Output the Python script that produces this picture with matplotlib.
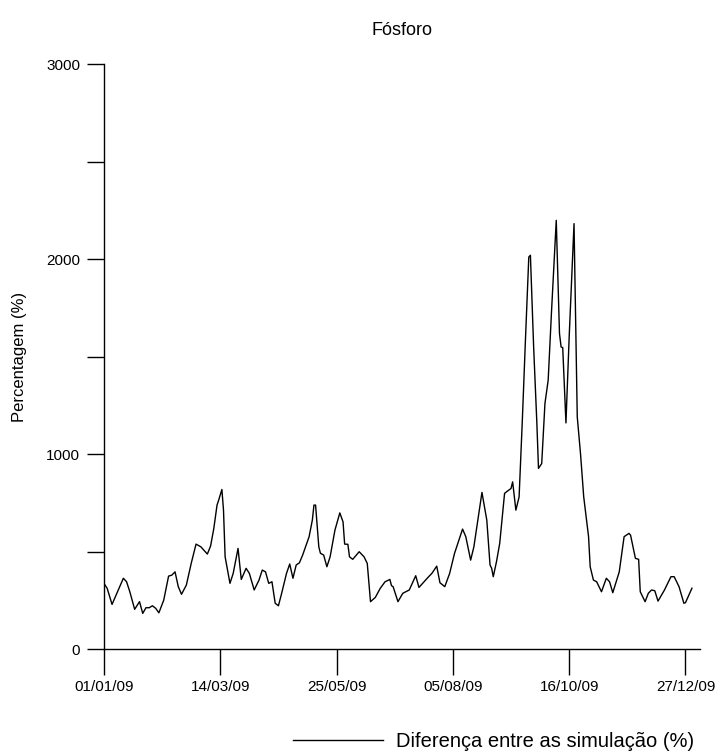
import numpy as np
import matplotlib
matplotlib.use("Agg")
import matplotlib.pyplot as plt

# days since 01/01/2009 and the percentage
dias = [0, 2, 5, 8, 12, 14, 16, 19, 20, 22, 24, 26, 28, 30, 32, 34, 37, 40, 42, 44,
        46, 48, 51, 54, 57, 60, 64, 66, 68, 70, 71, 73, 74, 75, 78, 80, 83, 85, 88, 90,
        93, 96, 98, 100, 102, 104, 106, 108, 110, 113, 115, 117, 119, 121, 123, 127, 129, 130, 131, 133,
        134, 136, 138, 140, 143, 146, 148, 149, 151, 152, 154, 158, 161, 163, 165, 168, 171, 174, 177, 178,
        179, 182, 185, 189, 193, 195, 201, 203, 206, 208, 211, 214, 217, 222, 224, 227, 229, 234, 237, 239,
        240, 241, 243, 245, 248, 250, 252, 253, 255, 257, 259, 261, 263, 264, 266, 268, 269, 271, 273, 275,
        277, 280, 282, 283, 284, 286, 288, 291, 293, 295, 297, 300, 301, 303, 305, 308, 311, 313, 315, 319,
        322, 325, 326, 329, 331, 332, 335, 337, 339, 341, 343, 347, 351, 353, 356, 359, 360, 364]
diferenca = [339, 313, 231, 288, 365, 347, 296, 206, 219, 245, 185, 214, 214, 224, 211, 188, 253, 376, 381, 398,
             322, 283, 330, 441, 540, 526, 489, 530, 620, 740, 765, 820, 714, 475, 339, 390, 518, 359, 416, 390,
             305, 356, 407, 398, 339, 347, 237, 224, 288, 390, 438, 365, 433, 444, 484, 578, 663, 740, 740, 526,
             493, 484, 424, 475, 612, 700, 654, 540, 539, 475, 462, 501, 475, 441, 245, 267, 313, 347, 359, 327,
             322, 245, 288, 305, 378, 318, 373, 390, 427, 342, 322, 390, 492, 617, 578, 458, 526, 805, 663, 433,
             416, 373, 450, 544, 800, 813, 825, 859, 714, 782, 1175, 1602, 2011, 2020, 1550, 1158, 928, 953, 1261, 1380,
             1721, 2199, 1619, 1550, 1547, 1161, 1602, 2182, 1192, 1005, 782, 578, 424, 356, 347, 296, 365, 347, 291, 398,
             578, 595, 586, 467, 462, 296, 245, 288, 305, 301, 248, 305, 373, 373, 322, 237, 240, 314]

tick_dias = [0, 72, 144, 216, 288, 360]
tick_rotulos = ["01/01/09", "14/03/09", "25/05/09", "05/08/09", "16/10/09", "27/12/09"]

plt.rcParams['font.family'] = ['Liberation Sans', 'DejaVu Sans']

fig = plt.figure(figsize=(7.19, 7.54), dpi=100)
ax = fig.add_axes([0.1446, 0.1386, 0.8290, 0.7765])

ax.plot(dias, diferenca, color='black', lw=1.0, label='Diferença entre as simulação (%)')

ax.set_xlim(0, 369)
ax.set_ylim(0, 3000)
ax.spines['top'].set_visible(False)
ax.spines['right'].set_visible(False)
ax.spines['left'].set_linewidth(1.0)
ax.spines['bottom'].set_linewidth(1.0)

ax.set_xticks(tick_dias)
ax.set_xticklabels(tick_rotulos, fontsize=11)
ax.set_yticks(np.arange(0, 3001, 500))
ax.set_yticklabels([str(v) if v % 1000 == 0 else '' for v in range(0, 3001, 500)], fontsize=11)
ax.tick_params(axis='x', length=19, width=1.0, pad=3)
ax.tick_params(axis='y', length=12, width=1.0, pad=5)

ax.set_ylabel('Percentagem (%)', fontsize=12, labelpad=14)
ax.set_title('Fósforo', fontsize=13, pad=21)

fig.legend(loc='center right', bbox_to_anchor=(0.99, 0.017), frameon=False,
           fontsize=14.5, handlelength=4.5, handletextpad=0.6)

fig.savefig('out.png', dpi=100)
